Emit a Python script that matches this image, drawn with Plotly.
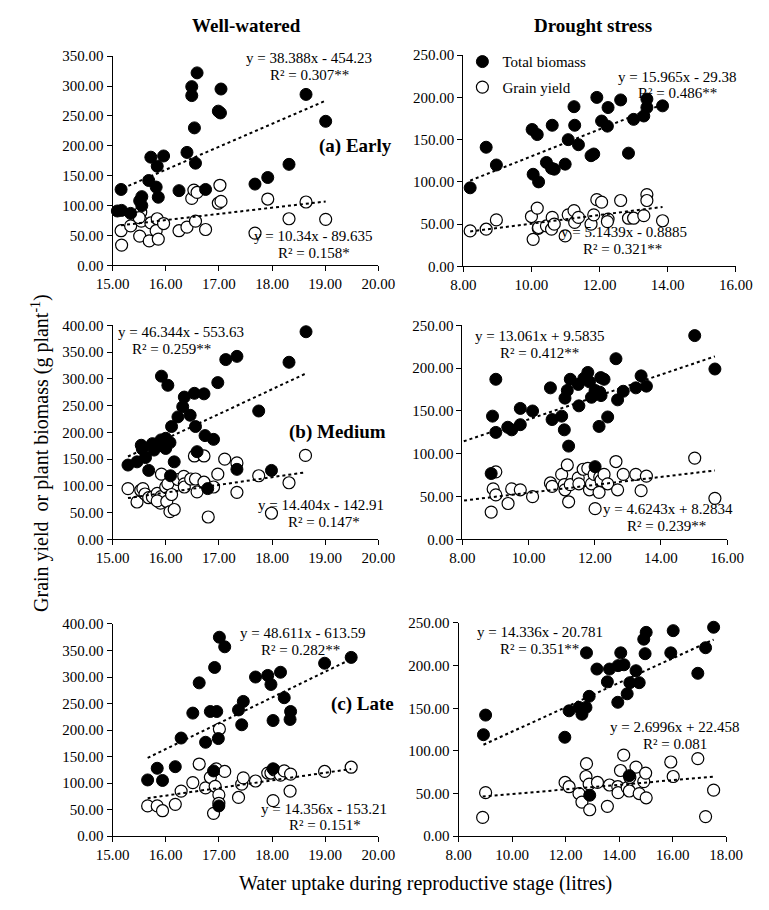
import plotly.graph_objects as go

W, H = 769, 910
FONT = "Liberation Serif, Times New Roman, serif"

# ---------------- Data ----------------
# (a) Early - Well-watered
ww_early_bio_x = [15.09, 15.17, 15.16, 15.34, 15.51, 15.55, 15.55, 15.72, 15.68, 15.84, 15.82, 15.86, 15.96, 16.25, 16.40,
                  16.49, 16.49, 16.59, 16.54, 16.56, 16.75, 16.99, 17.03, 17.04, 17.68, 17.92, 18.32, 18.64, 19.01]
ww_early_bio_y = [91, 92, 127, 87, 108, 115, 100, 181, 142, 166, 131, 114, 183, 125, 189,
                  299, 284, 322, 230, 171, 127, 258, 255, 295, 136, 147, 169, 286, 241]
ww_early_gy_x = [15.16, 15.17, 15.34, 15.51, 15.53, 15.54, 15.50, 15.72, 15.69, 15.84, 15.82, 15.86, 15.96, 16.25,
                 16.40, 16.49, 16.53, 16.59, 16.56, 16.75, 17.02, 16.99, 17.04, 17.68, 17.92, 18.32, 18.64, 19.01]
ww_early_gy_y = [58, 34, 66, 49, 89, 74, 80, 71, 41, 78, 58, 44, 70, 58,
                 64, 112, 126, 122, 74, 60, 134, 104, 107, 54, 111, 78, 106, 77]

# (a) Early - Drought stress
ds_early_bio_x = [8.20, 8.67, 8.97, 10.02, 10.17, 10.05, 10.21, 10.61, 10.44, 10.59, 10.67, 11.08, 10.99, 11.25, 11.27,
                  11.38, 11.75, 11.83, 11.92, 12.06, 12.25, 12.23, 12.62, 12.85, 13.00, 13.30, 13.39, 13.39, 13.85]
ds_early_bio_y = [93, 141, 120, 162, 156, 109, 100, 167, 123, 116, 115, 150, 121, 189, 167,
                  144, 131, 133, 200, 172, 188, 166, 197, 134, 174, 178, 198, 188, 190]
ds_early_gy_x = [8.20, 8.67, 8.97, 10.00, 10.17, 10.05, 10.20, 10.21, 10.44, 10.61, 10.59, 10.67, 11.08, 10.99, 11.25,
                 11.27, 11.38, 11.75, 11.83, 11.92, 12.06, 12.25, 12.23, 12.62, 12.85, 13.00, 13.30, 13.39, 13.39, 13.85]
ds_early_gy_y = [42, 44, 55, 59, 69, 32, 45, 46, 48, 58, 44, 50, 61, 36, 66,
                 52, 58, 50, 61, 79, 76, 56, 53, 78, 57, 57, 60, 85, 78, 54]

# (b) Medium - Well-watered
ww_med_bio_x = [15.29, 15.46, 15.54, 15.56, 15.62, 15.68, 15.75, 15.78, 15.84, 15.91, 15.93, 15.92, 16.00, 16.00, 16.04,
                16.08, 16.09, 16.11, 16.16, 16.23, 16.32, 16.35, 16.46, 16.54, 16.56, 16.59, 16.72, 16.74, 16.79, 16.90,
                16.98, 17.13, 17.34, 17.34, 17.75, 17.99, 18.32, 18.64]
ww_med_bio_y = [139, 145, 176, 169, 153, 129, 179, 167, 178, 186, 175, 305, 189, 170, 288,
                181, 119, 211, 145, 229, 248, 266, 232, 273, 211, 164, 272, 194, 95, 187,
                293, 336, 342, 131, 240, 129, 331, 388]
ww_med_gy_x = [15.29, 15.46, 15.53, 15.57, 15.61, 15.68, 15.75, 15.84, 15.90, 15.92, 15.91, 15.84, 16.02, 16.00, 16.04,
               16.08, 16.11, 16.16, 16.23, 16.34, 16.35, 16.35, 16.47, 16.54, 16.56, 16.59, 16.72, 16.72, 16.80, 16.90,
               16.98, 17.11, 17.34, 17.34, 17.75, 17.99, 18.32, 18.63]
ww_med_gy_y = [95, 70, 92, 95, 85, 78, 79, 86, 68, 122, 80, 72, 71, 98, 104,
               52, 84, 56, 112, 118, 104, 98, 113, 156, 113, 89, 156, 107, 42, 98,
               122, 150, 143, 88, 119, 49, 106, 157]

# (b) Medium - Drought stress
ds_med_bio_x = [8.87, 8.91, 9.01, 9.01, 9.37, 9.49, 9.75, 9.75, 10.12, 10.66, 10.71, 11.00, 11.08, 11.10, 11.17,
                11.26, 11.21, 11.50, 11.52, 11.67, 11.79, 11.84, 11.90, 12.01, 12.15, 12.19, 12.13, 12.18, 12.28, 12.39,
                12.64, 12.69, 12.86, 13.24, 13.40, 13.56, 15.02, 15.63, 12.01]
ds_med_bio_y = [77, 144, 187, 125, 131, 128, 153, 134, 150, 177, 140, 144, 128, 165, 174,
                187, 109, 181, 156, 188, 195, 184, 166, 174, 172, 168, 132, 189, 187, 143,
                211, 163, 173, 177, 191, 179, 238, 199, 85]
ds_med_gy_x = [8.87, 8.93, 9.01, 9.01, 9.38, 9.49, 9.75, 10.12, 10.66, 10.71, 11.00, 11.08, 11.10, 11.17, 11.21,
               11.26, 11.50, 11.52, 11.65, 11.79, 11.84, 11.90, 11.98, 12.01, 12.13, 12.15, 12.19, 12.28, 12.39, 12.64,
               12.69, 12.86, 13.24, 13.40, 13.56, 15.02, 15.63]
ds_med_gy_y = [32, 59, 79, 52, 42, 59, 58, 50, 66, 62, 76, 64, 58, 87, 44,
               64, 72, 65, 82, 83, 58, 65, 76, 36, 55, 73, 69, 76, 65, 91,
               58, 76, 76, 57, 74, 95, 48]

# (c) Late - Well-watered
ww_late_bio_x = [15.66, 15.84, 15.94, 16.18, 16.29, 16.51, 16.63, 16.75, 16.84, 16.90, 16.92, 16.96, 16.99, 17.01, 17.11,
                 17.00, 17.37, 17.43, 17.46, 17.69, 17.92, 17.98, 18.02, 18.02, 18.16, 18.23, 18.34, 18.35, 18.99, 19.49]
ww_late_bio_y = [106, 128, 105, 131, 185, 232, 289, 177, 235, 123, 318, 235, 184, 375, 357,
                 57, 238, 210, 254, 300, 303, 286, 218, 127, 309, 261, 220, 235, 326, 337]
ww_late_gy_x = [15.66, 15.84, 15.94, 16.18, 16.29, 16.51, 16.63, 16.75, 16.84, 16.90, 16.95, 16.93, 17.01, 17.11, 17.00,
                17.00, 17.37, 17.43, 17.46, 17.69, 17.92, 17.98, 18.02, 18.04, 18.16, 18.23, 18.34, 18.35, 18.99, 19.49]
ww_late_gy_y = [57, 57, 48, 60, 85, 101, 136, 91, 111, 43, 127, 94, 202, 122, 78,
                62, 73, 98, 110, 104, 119, 119, 67, 125, 115, 123, 85, 117, 122, 130]

# (c) Late - Drought stress
ds_late_bio_x = [8.93, 9.01, 11.97, 12.13, 12.50, 12.61, 12.76, 12.78, 12.88, 13.17, 12.90, 13.56, 13.64, 13.95, 13.96,
                 14.06, 14.18, 14.30, 14.38, 14.40, 14.63, 14.75, 14.92, 15.01, 14.97, 15.93, 16.02, 16.94, 17.23, 17.53]
ds_late_bio_y = [119, 142, 116, 147, 151, 143, 151, 215, 164, 196, 48, 181, 196, 157, 200,
                 215, 201, 167, 71, 180, 194, 180, 231, 239, 214, 215, 241, 191, 221, 245]
ds_late_gy_x = [8.90, 9.01, 11.98, 12.13, 12.50, 12.61, 12.76, 12.78, 12.88, 12.90, 13.19, 13.56, 13.64, 13.95, 13.96,
                14.05, 14.17, 14.30, 14.40, 14.38, 14.63, 14.75, 14.92, 14.99, 15.01, 15.93, 16.02, 16.94, 17.23, 17.53]
ds_late_gy_y = [22, 51, 63, 58, 50, 40, 70, 85, 61, 31, 63, 35, 60, 58, 51,
                77, 95, 57, 69, 53, 81, 50, 64, 74, 45, 87, 70, 91, 23, 54]

# Trendline coefficients and labels (as printed on the chart)
bio_slopes = [38.388, 15.965, 46.344, 13.061, 48.611, 14.336]
bio_intercepts = [-454.23, -29.38, -553.63, 9.5835, -613.59, -20.781]
gy_slopes = [10.34, 5.1439, 14.404, 4.6243, 14.356, 2.6996]
gy_intercepts = [-89.635, -0.8885, -142.91, 8.2834, -153.21, 22.458]
backward_forecast = [0, 0, 0, 1.0, 0, 0]

bio_eq = ["y = 38.388x - 454.23", "y = 15.965x - 29.38", "y = 46.344x - 553.63",
          "y = 13.061x + 9.5835", "y = 48.611x - 613.59", "y = 14.336x - 20.781"]
bio_r2 = ["R² = 0.307**", "R² = 0.486**", "R² = 0.259**", "R² = 0.412**", "R² = 0.282**", "R² = 0.351**"]
gy_eq = ["y = 10.34x - 89.635", "y = 5.1439x - 0.8885", "y = 14.404x - 142.91",
         "y = 4.6243x + 8.2834", "y = 14.356x - 153.21", "y = 2.6996x + 22.458"]
gy_r2 = ["R² = 0.158*", "R² = 0.321**", "R² = 0.147*", "R² = 0.239**", "R² = 0.151*", "R² = 0.081"]

panel_labels = ["(a) Early", "(b) Medium", "(c) Late"]
column_titles = ["Well-watered", "Drought stress"]
x_ranges = [[15, 20], [8, 16], [15, 20], [8, 16], [15, 20], [8, 18]]
x_dticks = [1, 2, 1, 2, 1, 2]
y_ranges = [[0, 350], [0, 250], [0, 400], [0, 250], [0, 400], [0, 250]]
y_dtick = 50

series = [
    (ww_early_bio_x, ww_early_bio_y, ww_early_gy_x, ww_early_gy_y),
    (ds_early_bio_x, ds_early_bio_y, ds_early_gy_x, ds_early_gy_y),
    (ww_med_bio_x, ww_med_bio_y, ww_med_gy_x, ww_med_gy_y),
    (ds_med_bio_x, ds_med_bio_y, ds_med_gy_x, ds_med_gy_y),
    (ww_late_bio_x, ww_late_bio_y, ww_late_gy_x, ww_late_gy_y),
    (ds_late_bio_x, ds_late_bio_y, ds_late_gy_x, ds_late_gy_y),
]

# ---------------- Layout geometry (pixels) ----------------
boxes = [(100, 378, 49, 262), (467, 752, 48, 263),
         (100, 378, 323, 541), (466, 743, 323, 541),
         (100, 378, 627, 843), (462, 742, 626, 843)]


def px(x):
    return x / W


def py(y):
    return 1 - y / H


fig = go.Figure()
layout = {}
annotations = []

for i, (bx, by, gx, gy) in enumerate(series):
    n = i + 1
    xa = "x" if n == 1 else f"x{n}"
    ya = "y" if n == 1 else f"y{n}"
    show = (i == 1)
    # grain yield (open)
    fig.add_trace(go.Scatter(
        x=gx, y=gy, mode="markers", xaxis=xa, yaxis=ya,
        name="Grain yield", legendgroup="gy", legendrank=2, showlegend=show,
        marker=dict(symbol="circle", size=12, color="white", line=dict(color="black", width=1.2)),
        cliponaxis=False,
    ))
    # total biomass (filled)
    fig.add_trace(go.Scatter(
        x=bx, y=by, mode="markers", xaxis=xa, yaxis=ya,
        name="Total biomass", legendgroup="bio", legendrank=1, showlegend=show,
        marker=dict(symbol="circle", size=12, color="black", line=dict(color="black", width=1)),
        cliponaxis=False,
    ))
    # trend lines
    for xs, m, c in ((bx, bio_slopes[i], bio_intercepts[i]), (gx, gy_slopes[i], gy_intercepts[i])):
        x0 = min(xs) - backward_forecast[i]
        x1 = max(xs)
        fig.add_trace(go.Scatter(
            x=[x0, x1], y=[m * x0 + c, m * x1 + c], mode="lines", xaxis=xa, yaxis=ya,
            showlegend=False, hoverinfo="skip",
            line=dict(color="black", width=2, dash="dot"),
        ))

    x0p, x1p, ytp, ybp = boxes[i]
    axis_common = dict(showline=True, linecolor="black", linewidth=1, ticks="outside",
                       ticklen=5, tickcolor="black", tickwidth=1, showgrid=False, zeroline=False,
                       tickformat=".2f", tickfont=dict(family=FONT, size=15, color="black"))
    layout["xaxis" if n == 1 else f"xaxis{n}"] = dict(
        domain=[px(x0p), px(x1p)], range=x_ranges[i], dtick=x_dticks[i], tick0=0,
        anchor=ya, **axis_common)
    layout["yaxis" if n == 1 else f"yaxis{n}"] = dict(
        domain=[py(ybp), py(ytp)], range=y_ranges[i], dtick=y_dtick, tick0=0,
        anchor=xa, **axis_common)

# equation annotations (pixel centres)
bio_eq_pos = [(305, 51), (691, 70), (172, 330), (547, 334), (299, 636), (547, 635)]
bio_r2_pos = [(306, 68), (691, 87), (162, 347), (547, 351), (297, 653), (547, 652)]
gy_eq_pos = [(310, 232), (635, 228), (318, 506), (681, 510), (321, 815), (688, 732)]
gy_r2_pos = [(311, 249), (634, 245), (321, 523), (680, 527), (322, 832), (688, 749)]

for texts, poss in ((bio_eq, bio_eq_pos), (bio_r2, bio_r2_pos), (gy_eq, gy_eq_pos), (gy_r2, gy_r2_pos)):
    for t, (xp, yp) in zip(texts, poss):
        annotations.append(dict(text=t, x=px(xp), y=py(yp), xref="paper", yref="paper",
                                xanchor="center", yanchor="middle", showarrow=False,
                                font=dict(family=FONT, size=15, color="black")))

label_pos = [(314, 140), (282, 432), (326, 708)]
for t, (xp, yp) in zip(panel_labels, label_pos):
    annotations.append(dict(text=f"<b>{t}</b>", x=px(xp), y=py(yp), xref="paper", yref="paper",
                            xanchor="left", yanchor="middle", showarrow=False,
                            font=dict(family=FONT, size=19, color="black")))

title_pos = [(240, 18), (603, 18)]
for t, (xp, yp) in zip(column_titles, title_pos):
    annotations.append(dict(text=f"<b>{t}</b>", x=px(xp), y=py(yp), xref="paper", yref="paper",
                            xanchor="center", yanchor="middle", showarrow=False,
                            font=dict(family=FONT, size=19, color="black")))

annotations.append(dict(text="Water uptake during reproductive stage (litres)", x=px(427), y=py(891),
                        xref="paper", yref="paper", xanchor="center", yanchor="middle", showarrow=False,
                        font=dict(family=FONT, size=20, color="black")))
annotations.append(dict(text="Grain yield\u00a0 or plant biomass (g plant<sup>-1</sup>)", x=px(24), y=py(453),
                        xref="paper", yref="paper", xanchor="center", yanchor="middle", showarrow=False,
                        textangle=-90, font=dict(family=FONT, size=20, color="black")))

fig.update_layout(
    width=W, height=H, autosize=False,
    margin=dict(l=0, r=0, t=0, b=0),
    paper_bgcolor="white", plot_bgcolor="white",
    font=dict(family=FONT, size=15, color="black"),
    showlegend=True,
    legend=dict(x=px(466), y=py(38), xanchor="left", yanchor="top",
                bgcolor="rgba(0,0,0,0)", borderwidth=0, traceorder="grouped",
                tracegroupgap=3, itemwidth=30,
                font=dict(family=FONT, size=15, color="black")),
    annotations=annotations,
    **layout,
)

fig.write_html("out.html", config={"displayModeBar": False},
               post_script="document.body.style.margin='0';")
